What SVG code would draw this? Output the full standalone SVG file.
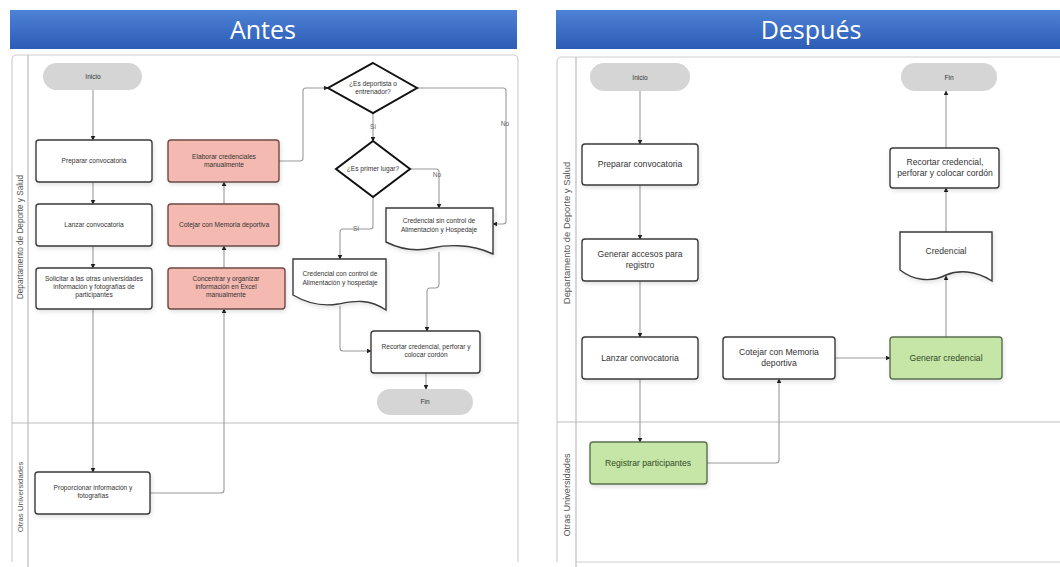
<svg xmlns="http://www.w3.org/2000/svg" width="1060" height="567" viewBox="0 0 1060 567">
<defs>
<linearGradient id="hdr" x1="0" y1="0" x2="0" y2="1">
<stop offset="0" stop-color="#4d82d6"/>
<stop offset="1" stop-color="#2c5cb5"/>
</linearGradient>
<marker id="arr" viewBox="0 0 8 8" refX="7" refY="4" markerWidth="5" markerHeight="5" orient="auto" markerUnits="userSpaceOnUse">
<path d="M0,0 L8,4 L0,8 z" fill="#222"/>
</marker>
<filter id="sh" x="-10%" y="-10%" width="125%" height="130%">
<feDropShadow dx="1" dy="2" stdDeviation="2" flood-color="#000" flood-opacity="0.12"/>
</filter>
</defs>
<style>
.hdrt{font-family:"Open Sans","Liberation Sans",sans-serif;fill:#fff;text-anchor:middle}
.frame{fill:none;stroke:#cfcfcf;stroke-width:1.2}
.lane{fill:none;stroke:#bdbdbd;stroke-width:1.2}
.lanet{font-family:"Liberation Sans",Arial,sans-serif;fill:#555;text-anchor:middle}
.box{fill:#fff;stroke:#3a3a3a;stroke-width:1.4;filter:url(#sh)}
.pink{fill:#f4b9b1;stroke:#6b4a46;stroke-width:1.4;filter:url(#sh)}
.green{fill:#c6e6a8;stroke:#5a7050;stroke-width:1.4;filter:url(#sh)}
.pill{fill:#d5d5d5;stroke:none}
.dia{fill:#fff;stroke:#111;stroke-width:2}
.t{font-family:"Liberation Sans",Arial,sans-serif;fill:#333;text-anchor:middle}
.s{font-size:6.6px}
.m{font-size:8.6px}
.gt{fill:#2f4a1f}
.c{fill:none;stroke:#9a9a9a;stroke-width:1.1;marker-end:url(#arr)}
.lbl{font-family:"Liberation Sans",Arial,sans-serif;font-size:6.6px;fill:#666;text-anchor:middle}
</style>
<rect width="1060" height="567" fill="#fff"/>

<!-- Left panel -->
<g id="panel-antes">
<rect x="10" y="10" width="507" height="39" fill="url(#hdr)"/>
<text class="hdrt" x="263" y="39" font-size="25">Antes</text>
<path class="frame" d="M12,562 V60 Q12,55 17,55 H513 Q518,55 518,60 V562"/>
<line class="lane" x1="28" y1="55" x2="28" y2="567"/>
<line class="lane" x1="12" y1="423" x2="518" y2="423"/>
<text class="lanet" font-size="8.2" transform="translate(23,237) rotate(-90)">Departamento de Deporte y Salud</text>
<text class="lanet" font-size="7.8" transform="translate(23,497) rotate(-90)">Otras Universidades</text>
</g>

<!-- Right panel -->
<g id="panel-despues">
<rect x="556" y="10" width="504" height="39" fill="url(#hdr)"/>
<text class="hdrt" x="811" y="39" font-size="25">Después</text>
<path class="frame" d="M557,562 V62 Q557,57 562,57 H1060"/>
<line class="lane" x1="576" y1="57" x2="576" y2="567"/>
<line class="lane" x1="557" y1="422" x2="1060" y2="422"/>
<line class="frame" x1="576" y1="562" x2="1060" y2="562"/>
<text class="lanet" font-size="9.4" transform="translate(570,233) rotate(-90)">Departamento de Deporte y Salud</text>
<text class="lanet" font-size="9.2" transform="translate(570,495) rotate(-90)">Otras Universidades</text>
</g>

<!-- Connectors -->
<g id="connectors">
<path class="c" d="M93,90 V140"/>
<path class="c" d="M93,182 V204"/>
<path class="c" d="M93,246 V268"/>
<path class="c" d="M93,309 V472"/>
<path class="c" d="M150,493 H221 Q224,493 224,490 V309"/>
<path class="c" d="M224,268 V246"/>
<path class="c" d="M224,204 V182"/>
<path class="c" d="M279,161 H300 Q303,161 303,158 V91 Q303,88 306,88 H328"/>
<path class="c" d="M373,113 V141"/>
<path class="c" d="M417,88 H503 Q506,88 506,91 V221 Q506,224 503,224 H493"/>
<path class="c" d="M410,169 H436 Q439,169 439,172 V208"/>
<path class="c" d="M373,197 V226 Q373,229 370,229 H343 Q340,229 340,232 V259"/>
<path class="c" d="M439,252 V284 Q439,288 435,288 H430 Q427,288 427,292 V331"/>
<path class="c" d="M340,306 V348 Q340,351 343,351 H371"/>
<path class="c" d="M426,373 V389"/>

<path class="c" d="M640,91 V144"/>
<path class="c" d="M640,185 V239"/>
<path class="c" d="M640,281 V337"/>
<path class="c" d="M640,379 V442"/>
<path class="c" d="M707,463 H776 Q779,463 779,460 V379"/>
<path class="c" d="M835,358 H890"/>
<path class="c" d="M946,337 V276"/>
<path class="c" d="M946,232 V188"/>
<path class="c" d="M946,148 V91"/>

<text class="lbl" x="373" y="129">Si</text>
<text class="lbl" x="505" y="126">No</text>
<text class="lbl" x="437" y="177">No</text>
<text class="lbl" x="356" y="231">Si</text>
</g>

<!-- Left nodes -->
<g id="a-inicio"><rect class="pill" x="43" y="63" width="99" height="27" rx="13.5"/><text class="t s" x="93" y="79">Inicio</text></g>
<g id="a-preparar"><rect class="box" x="36" y="140" width="116" height="42" rx="3"/><text class="t s" x="94" y="163">Preparar convocatoria</text></g>
<g id="a-lanzar"><rect class="box" x="36" y="204" width="116" height="42" rx="3"/><text class="t s" x="94" y="227">Lanzar convocatoria</text></g>
<g id="a-solicitar"><rect class="box" x="36" y="268" width="116" height="41" rx="3"/><text class="t s" x="94" y="281">Solicitar a las otras universidades</text><text class="t s" x="94" y="289">información y fotografías de</text><text class="t s" x="94" y="297">participantes</text></g>
<g id="a-elaborar"><rect class="pink" x="168" y="140" width="111" height="42" rx="3"/><text class="t s" x="224" y="159">Elaborar credenciales</text><text class="t s" x="224" y="167">manualmente</text></g>
<g id="a-cotejar"><rect class="pink" x="168" y="204" width="111" height="42" rx="3"/><text class="t s" x="224" y="227">Cotejar con Memoria deportiva</text></g>
<g id="a-concentrar"><rect class="pink" x="168" y="268" width="117" height="41" rx="3"/><text class="t s" x="226" y="281">Concentrar y organizar</text><text class="t s" x="226" y="289">información en Excel</text><text class="t s" x="226" y="297">manualmente</text></g>
<g id="a-dec1"><path class="dia" d="M373,63 L417,88 L373,113 L328,88 Z"/><text class="t s" x="373" y="86">¿Es deportista o</text><text class="t s" x="373" y="94">entrenador?</text></g>
<g id="a-dec2"><path class="dia" d="M373,141 L410,169 L373,197 L336,169 Z"/><text class="t s" x="373" y="171">¿Es primer lugar?</text></g>
<g id="a-sin"><path class="box" d="M386,208 H493 V254 C470,243 445,245 432,248 C415,252 400,249 386,242 Z"/><text class="t s" x="439" y="223">Credencial sin control de</text><text class="t s" x="439" y="232">Alimentación y Hospedaje</text></g>
<g id="a-con"><path class="box" d="M293,259 H386 V310 C367,297 350,302 338,304 C320,307 305,302 293,295 Z"/><text class="t s" x="340" y="276">Credencial con control de</text><text class="t s" x="340" y="285">Alimentación y hospedaje</text></g>
<g id="a-recortar"><rect class="box" x="371" y="331" width="109" height="42" rx="3"/><text class="t s" x="426" y="349">Recortar credencial, perforar y</text><text class="t s" x="426" y="357">colocar cordón</text></g>
<g id="a-fin"><rect class="pill" x="377" y="389" width="96" height="26" rx="13"/><text class="t s" x="425" y="404">Fin</text></g>
<g id="a-proporcionar"><rect class="box" x="35" y="472" width="115" height="42" rx="3"/><text class="t s" x="93" y="490">Proporcionar información y</text><text class="t s" x="93" y="498">fotografías</text></g>

<!-- Right nodes -->
<g id="d-inicio"><rect class="pill" x="590" y="63" width="100" height="28" rx="14"/><text class="t s" x="640" y="79.5">Inicio</text></g>
<g id="d-fin"><rect class="pill" x="901" y="63" width="96" height="28" rx="14"/><text class="t s" x="949" y="79.5">Fin</text></g>
<g id="d-preparar"><rect class="box" x="582" y="144" width="116" height="41" rx="3"/><text class="t m" x="640" y="167">Preparar convocatoria</text></g>
<g id="d-recortar"><rect class="box" x="890" y="148" width="109" height="40" rx="3"/><text class="t m" x="945" y="165">Recortar credencial,</text><text class="t m" x="945" y="176">perforar y colocar cordón</text></g>
<g id="d-generar-accesos"><rect class="box" x="582" y="239" width="116" height="42" rx="3"/><text class="t m" x="640" y="257">Generar accesos para</text><text class="t m" x="640" y="268">registro</text></g>
<g id="d-credencial"><path class="box" d="M900,232 H992 V281 C975,270 958,270 946,275 C930,283 913,280 900,270 Z"/><text class="t m" x="946" y="254">Credencial</text></g>
<g id="d-lanzar"><rect class="box" x="582" y="337" width="116" height="42" rx="3"/><text class="t m" x="640" y="361">Lanzar convocatoria</text></g>
<g id="d-cotejar"><rect class="box" x="723" y="337" width="112" height="42" rx="3"/><text class="t m" x="779" y="355">Cotejar con Memoria</text><text class="t m" x="779" y="366">deportiva</text></g>
<g id="d-generar-cred"><rect class="green" x="890" y="337" width="112" height="42" rx="3"/><text class="t m gt" x="946" y="361">Generar credencial</text></g>
<g id="d-registrar"><rect class="green" x="590" y="442" width="117" height="42" rx="3"/><text class="t m gt" x="648" y="466">Registrar participantes</text></g>
</svg>
